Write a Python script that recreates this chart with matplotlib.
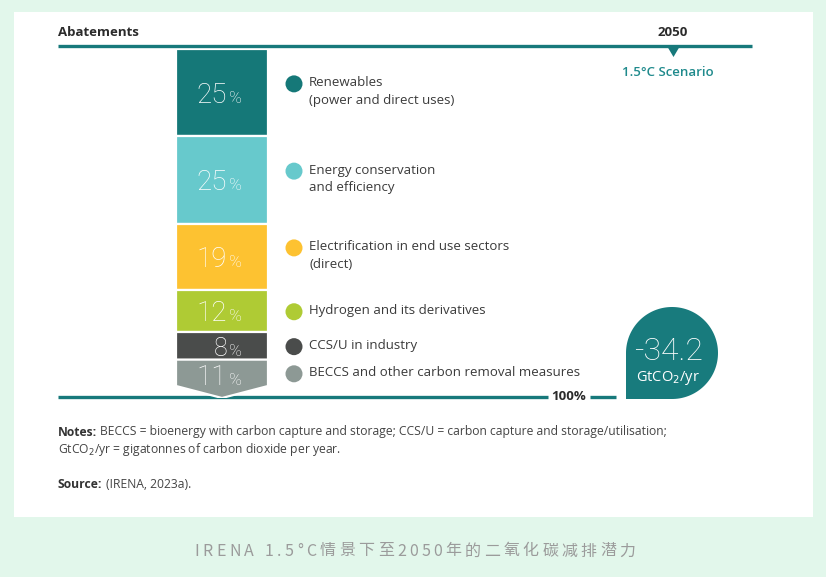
import matplotlib
matplotlib.use("Agg")
import matplotlib.pyplot as plt
from matplotlib.patches import Rectangle, Polygon, Circle, PathPatch
from matplotlib.path import Path
import numpy as np

# ---------------- data ----------------
categories = [
    "Renewables\n(power and direct uses)",
    "Energy conservation\nand efficiency",
    "Electrification in end use sectors\n(direct)",
    "Hydrogen and its derivatives",
    "CCS/U in industry",
    "BECCS and other carbon removal measures",
]
shares = [25, 25, 19, 12, 8, 11]
colors = ["#157878", "#67c9cc", "#fdc231", "#afcb34", "#4a4c4b", "#8d9995"]
header_left = "Abatements"
header_year = "2050"
scenario = "1.5°C Scenario"
total_label = "100%"
total_value = "-34.2"
total_unit = "GtCO$_2$/yr"
notes_head = "Notes:"
notes_line1 = "BECCS = bioenergy with carbon capture and storage; CCS/U = carbon capture and storage/utilisation;"
notes_line2 = "GtCO$_2$/yr = gigatonnes of carbon dioxide per year."
source_head = "Source:"
source_text = "(IRENA, 2023a)."
caption = "IRENA 1.5°C情景下至2050年的二氧化碳减排潜力"

W, H = 826, 577
fig = plt.figure(figsize=(W / 100, H / 100), dpi=100)
fig.patch.set_facecolor("#e2f7eb")

bg = fig.add_axes([0, 0, 1, 1])
bg.set_xlim(0, W)
bg.set_ylim(H, 0)
bg.axis("off")

TEAL = "#17797b"
TXT = "#3a3a3a"
FONT = ["Open Sans", "DejaVu Sans"]
LIGHT = ["Roboto", "DejaVu Sans"]

# white panel
bg.add_patch(Rectangle((14, 12), 799, 505, facecolor="white", edgecolor="none", zorder=0))

# header
bg.text(58, 33, header_left, fontsize=9.5, fontweight="bold", color="#2b2b2b",
        family=FONT, ha="left", va="center")
bg.text(673, 33, header_year, fontsize=9.5, fontweight="bold", color="#2b2b2b",
        family=FONT, ha="center", va="center")
bg.plot([58, 752], [46, 46], color=TEAL, lw=2.4, solid_capstyle="butt", zorder=2)
bg.add_patch(Polygon([(667, 46), (680, 46), (673.5, 57)], closed=True,
                     facecolor=TEAL, edgecolor="none", zorder=2))
bg.text(668, 72, scenario, fontsize=9.5, fontweight="semibold", color="#1f8a8c",
        family=FONT, ha="center", va="center")

# ---------------- stacked bar ----------------
bar_top, bar_bot = 49, 398
bar_l, bar_r = 176, 268
ax = fig.add_axes([bar_l / W, 1 - bar_bot / H, (bar_r - bar_l) / W, (bar_bot - bar_top) / H])
ax.set_xlim(0, 1)
ax.set_ylim(sum(shares), 0)
ax.axis("off")
ax.patch.set_alpha(0)

bottoms = np.concatenate([[0], np.cumsum(shares)[:-1]])
tip = 12 / (bar_bot - bar_top) * sum(shares)
for i, (v, b, c) in enumerate(zip(shares, bottoms, colors)):
    if i < len(shares) - 1:
        ax.bar(0.5, v, bottom=b, width=1.0, color=c, edgecolor="white", linewidth=1.6)
    else:
        end = b + v
        ax.add_patch(Polygon([(0, b), (1, b), (1, end - tip), (0.5, end), (0, end - tip)],
                             closed=True, facecolor=c, edgecolor="white", linewidth=1.6))


def ypix(v):
    return bar_top + v / sum(shares) * (bar_bot - bar_top)


# percentage labels (drawn by the bar axes so they sit above the bars)
for i, (v, b) in enumerate(zip(shares, bottoms)):
    mid = b + v / 2
    if i == len(shares) - 1:
        mid = b + (v - tip) / 2 + 0.6
    yc = ypix(mid)
    big = 20 if v >= 10 else 18
    ax.text(227, yc + 10.5, f"{v}", fontsize=big, fontweight="light", family=LIGHT,
            color="white", ha="right", va="baseline", zorder=5,
            transform=bg.transData, clip_on=False)
    ax.text(228.5, yc + 10.5, "%", fontsize=12.5, fontweight="light", family=LIGHT,
            color="white", ha="left", va="baseline", zorder=5,
            transform=bg.transData, clip_on=False)

# legend
for i, (lab, v, b, c) in enumerate(zip(categories, shares, bottoms, colors)):
    n = lab.count("\n") + 1
    yc = ypix(b + v / 2)
    if i == len(shares) - 1:
        yc = ypix(b + v / 2) - 6
    if n == 2:
        yc -= 1
    y1 = yc - (n - 1) * 17.5 / 2
    bg.add_patch(Circle((294, y1 + 1), 8.5, facecolor=c, edgecolor="none", zorder=3))
    for k, line in enumerate(lab.split("\n")):
        bg.text(309, y1 + k * 17.5, line, fontsize=9.5, color=TXT, family=FONT,
                ha="left", va="center")

# bottom line
bg.plot([58, 548], [397, 397], color=TEAL, lw=2.4, solid_capstyle="butt", zorder=2)
bg.plot([590, 616], [397, 397], color=TEAL, lw=2.4, solid_capstyle="butt", zorder=2)
bg.text(569, 397, total_label, fontsize=9.5, fontweight="bold", color="#2b2b2b",
        family=FONT, ha="center", va="center")

# bubble (three rounded quadrants, square bottom-left)
cx, cy, r = 672, 353, 46
theta = np.linspace(np.pi, -np.pi / 2, 120)  # from left, over top, to bottom
pts = [(cx + r * np.cos(t), cy - r * np.sin(t)) for t in theta]
verts = [(cx - r, cy + r)] + pts + [(cx - r, cy + r)]
codes = [Path.MOVETO] + [Path.LINETO] * (len(verts) - 2) + [Path.CLOSEPOLY]
bg.add_patch(PathPatch(Path(verts, codes), facecolor="#187b7d", edgecolor="none", zorder=3))
bg.text(669, 351, total_value, fontsize=23, fontweight="light", family=LIGHT,
        color="white", ha="center", va="center", zorder=4)
bg.text(668, 378, total_unit, fontsize=10.5, color="white", family=FONT,
        ha="center", va="center", zorder=4)

# notes
fig.canvas.draw()
renderer = fig.canvas.get_renderer()
NFS = 8.75


def head_and_text(y, head, body):
    t = bg.text(58, y, head, fontsize=NFS, fontweight="bold", color="#333333",
                family=FONT, ha="left", va="center")
    bb = t.get_window_extent(renderer)
    bg.text(58 + bb.width + 3, y, body, fontsize=NFS, color="#444444", family=FONT,
            ha="left", va="center")


head_and_text(432, notes_head, notes_line1)
bg.text(58, 449, notes_line2, fontsize=NFS, color="#444444", family=FONT,
        ha="left", va="center")
head_and_text(485, source_head, source_text)

# caption with letter spacing
cap_font = ["Noto Sans CJK SC", "DejaVu Sans"]
CFS = 11.5
spacing = 3.3
widths = []
for ch in caption:
    t = bg.text(0, 551, ch if ch != " " else "a", fontsize=CFS, family=cap_font)
    bb = t.get_window_extent(renderer)
    widths.append(bb.width if ch != " " else bb.width * 0.55)
    t.remove()
total = sum(widths) + spacing * (len(caption) - 1)
x = 415 - total / 2
for ch, w in zip(caption, widths):
    if ch != " ":
        bg.text(x, 551, ch, fontsize=CFS, family=cap_font, color="#9b9b9b",
                ha="left", va="center")
    x += w + spacing

fig.savefig("out.png", dpi=100, facecolor=fig.get_facecolor())
